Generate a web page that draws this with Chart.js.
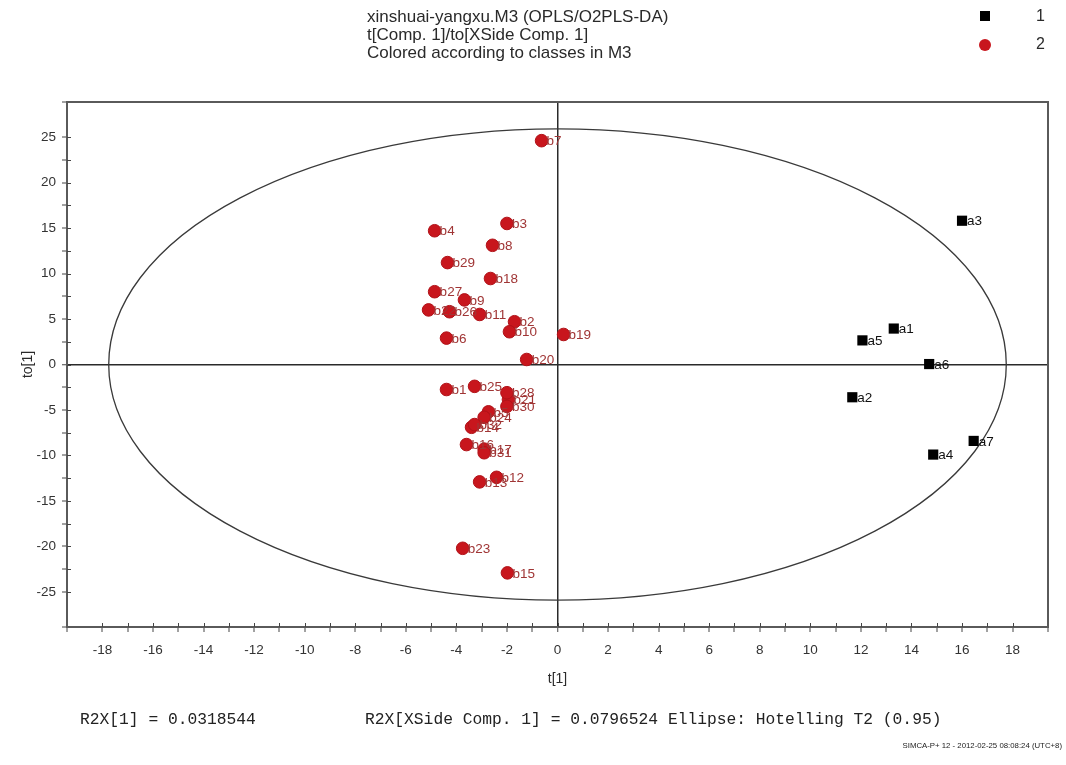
<!DOCTYPE html>
<html><head><meta charset="utf-8">
<script src="https://cdn.jsdelivr.net/npm/chart.js@4.4.1/dist/chart.umd.min.js"></script>
<style>html,body{margin:0;padding:0;background:#fff}#wrap{width:1066px;height:765px;position:relative}</style>
</head><body><div id="wrap"><canvas id="c"></canvas></div>
<script>
// ---- data ----
const class1Names = ['a1','a2','a3','a4','a5','a6','a7'];
const class1X = [13.3, 11.66, 16.0, 14.86, 12.06, 14.7, 16.46];
const class1Y = [3.95, -3.6, 15.8, -9.9, 2.65, 0.05, -8.4];

const class2Names = ['b1','b2','b3','b4','b5','b6','b7','b8','b9','b10','b11','b12','b13','b14','b15','b16',
  'b17','b18','b19','b20','b21','b22','b23','b24','b25','b26','b27','b28','b29','b30','b31','b32'];
const class2X = [-4.39,-1.7,-2.0,-4.86,-2.73,-4.39,-0.63,-2.57,-3.68,-1.9,-3.08,-2.41,-3.08,-3.4,-1.98,-3.6,
  -2.9,-2.65,0.24,-1.22,-1.94,-5.1,-3.75,-2.9,-3.28,-4.27,-4.86,-2.0,-4.35,-2.0,-2.9,-3.28];
const class2Y = [-2.75,4.7,15.5,14.7,-5.2,2.9,24.6,13.1,7.1,3.6,5.5,-12.4,-12.9,-6.9,-22.9,-8.8,
  -9.3,9.45,3.3,0.55,-3.85,6.0,-20.2,-5.8,-2.4,5.8,8.0,-3.1,11.2,-4.6,-9.7,-6.6];

const legendLabels = ['1', '2'];
const titleLines = ['xinshuai-yangxu.M3 (OPLS/O2PLS-DA)', 't[Comp. 1]/to[XSide Comp. 1]', 'Colored according to classes in M3'];
const xAxisTitle = 't[1]';
const yAxisTitle = 'to[1]';
const footerLeft = 'R2X[1] = 0.0318544';
const footerRight = 'R2X[XSide Comp. 1] = 0.0796524 Ellipse: Hotelling T2 (0.95)';
const stampText = 'SIMCA-P+ 12 - 2012-02-25 08:08:24 (UTC+8)';
const xRange = [-19.4, 19.4];
const yRange = [-28.85, 28.85];
const xTickStep = 1, xLabelEvery = 2;
const yTickStep = 2.5, yLabelEvery = 5;
const ellipseSemiAxes = [17.75, 25.9];

// ---- styles ----
const RED = '#c8161d', BLACK = '#000000';
const SANS = '"Liberation Sans", Arial, sans-serif';
const MONO = '"Liberation Mono", "DejaVu Sans Mono", monospace';

function isMultiple(v, m){ const r = v / m; return Math.abs(r - Math.round(r)) < 1e-6; }

const decor = {
  id: 'decor',
  beforeDatasetsDraw(chart){
    const ctx = chart.ctx, xs = chart.scales.x, ys = chart.scales.y;
    const cx = xs.getPixelForValue(0), cy = ys.getPixelForValue(0);
    const rx = xs.getPixelForValue(ellipseSemiAxes[0]) - cx;
    const ry = cy - ys.getPixelForValue(ellipseSemiAxes[1]);
    ctx.save();
    ctx.strokeStyle = '#3a3a3a'; ctx.lineWidth = 1.3;
    ctx.beginPath(); ctx.ellipse(cx, cy, rx, ry, 0, 0, Math.PI*2); ctx.stroke();
    ctx.restore();
  },
  afterDatasetsDraw(chart){
    const ctx = chart.ctx, a = chart.chartArea;
    ctx.save();
    ctx.font = '13.5px ' + SANS; ctx.textBaseline = 'middle'; ctx.textAlign = 'left';
    const groups = [[0, '#111111', class1Names], [1, '#a03535', class2Names]];
    groups.forEach(([di, col, names]) => {
      const meta = chart.getDatasetMeta(di);
      ctx.fillStyle = col;
      meta.data.forEach((pt, i) => { ctx.fillText(names[i], pt.x + 5, pt.y + 1); });
    });
    // plot frame
    ctx.strokeStyle = '#5a5a5a'; ctx.lineWidth = 2;
    ctx.strokeRect(a.left, a.top, a.right - a.left, a.bottom - a.top);
    // inner part of tick marks
    ctx.strokeStyle = '#444'; ctx.lineWidth = 1;
    const xs = chart.scales.x, ys = chart.scales.y;
    xs.ticks.forEach(t => { const p = Math.round(xs.getPixelForValue(t.value)) + 0.5;
      if (p > a.left + 3 && p < a.right - 3) { ctx.beginPath(); ctx.moveTo(p, a.bottom); ctx.lineTo(p, a.bottom - 4); ctx.stroke(); } });
    ys.ticks.forEach(t => { const p = Math.round(ys.getPixelForValue(t.value)) + 0.5;
      if (p > a.top + 3 && p < a.bottom - 3) { ctx.beginPath(); ctx.moveTo(a.left, p); ctx.lineTo(a.left + 4, p); ctx.stroke(); } });
    ctx.restore();
  },
  afterDraw(chart){
    const ctx = chart.ctx, a = chart.chartArea;
    ctx.save();
    ctx.fillStyle = '#2a2a2a'; ctx.textBaseline = 'middle'; ctx.textAlign = 'left';
    ctx.font = '17px ' + SANS;
    titleLines.forEach((t, i) => ctx.fillText(t, 367, 17 + i * 18));
    // legend
    ctx.fillStyle = BLACK; ctx.fillRect(980, 11, 10, 10);
    ctx.fillStyle = RED; ctx.beginPath(); ctx.arc(985, 45, 6, 0, Math.PI*2); ctx.fill();
    ctx.fillStyle = '#2a2a2a'; ctx.font = '16px ' + SANS;
    ctx.fillText(legendLabels[0], 1036, 17); ctx.fillText(legendLabels[1], 1036, 45);
    // axis titles
    ctx.font = '14px ' + SANS; ctx.textAlign = 'center';
    ctx.fillText(xAxisTitle, (a.left + a.right) / 2, 679);
    ctx.save(); ctx.translate(28, (a.top + a.bottom) / 2); ctx.rotate(-Math.PI / 2);
    ctx.fillText(yAxisTitle, 0, 0); ctx.restore();
    // footer
    ctx.textAlign = 'left'; ctx.font = '16.3px ' + MONO; ctx.fillStyle = '#222';
    ctx.fillText(footerLeft, 80, 720);
    ctx.fillText(footerRight, 365, 720);
    ctx.font = '7.8px ' + SANS; ctx.textAlign = 'right';
    ctx.fillText(stampText, 1062, 746);
    ctx.restore();
  }
};

const ctx = document.getElementById('c').getContext('2d');
new Chart(ctx, {
  type: 'scatter',
  data: {
    datasets: [
      { label: legendLabels[0], data: class1X.map((x, i) => ({x, y: class1Y[i]})),
        pointStyle: 'rect', pointRadius: 7.2, backgroundColor: BLACK, borderColor: BLACK, borderWidth: 0 },
      { label: legendLabels[1], data: class2X.map((x, i) => ({x, y: class2Y[i]})),
        pointStyle: 'circle', pointRadius: 6.3, backgroundColor: RED, borderColor: '#b01218', borderWidth: 1 }
    ]
  },
  options: {
    responsive: true, maintainAspectRatio: false, animation: false, devicePixelRatio: 1,
    layout: { padding: { top: 102, right: 18, bottom: 0, left: 0 } },
    plugins: { legend: { display: false }, tooltip: { enabled: false } },
    scales: {
      x: {
        type: 'linear', min: xRange[0], max: xRange[1],
        afterFit(s){ s.height = 138; },
        border: { display: true, color: '#5a5a5a', width: 2 },
        grid: {
          drawOnChartArea: true, tickLength: 5, tickColor: '#444', tickWidth: 1,
          color: c => (c.tick && Math.abs(c.tick.value) < 1e-9) ? '#2a2a2a' : 'rgba(0,0,0,0)',
          lineWidth: c => (c.tick && Math.abs(c.tick.value) < 1e-9) ? 1.5 : 0
        },
        ticks: { stepSize: xTickStep, autoSkip: false, maxRotation: 0, padding: 10, color: '#333',
          font: { family: SANS, size: 13.5 },
          callback: v => isMultiple(v, xLabelEvery) ? String(Math.round(v)) : '' }
      },
      y: {
        type: 'linear', min: yRange[0], max: yRange[1],
        afterFit(s){ s.width = 67; },
        border: { display: true, color: '#5a5a5a', width: 2 },
        grid: {
          drawOnChartArea: true, tickLength: 5, tickColor: '#444', tickWidth: 1,
          color: c => (c.tick && Math.abs(c.tick.value) < 1e-9) ? '#2a2a2a' : 'rgba(0,0,0,0)',
          lineWidth: c => (c.tick && Math.abs(c.tick.value) < 1e-9) ? 1.5 : 0
        },
        ticks: { stepSize: yTickStep, autoSkip: false, padding: 6, color: '#333',
          font: { family: SANS, size: 13.5 },
          callback: v => isMultiple(v, yLabelEvery) ? String(Math.round(v)) : '' }
      }
    }
  },
  plugins: [decor]
});
</script></body></html>
